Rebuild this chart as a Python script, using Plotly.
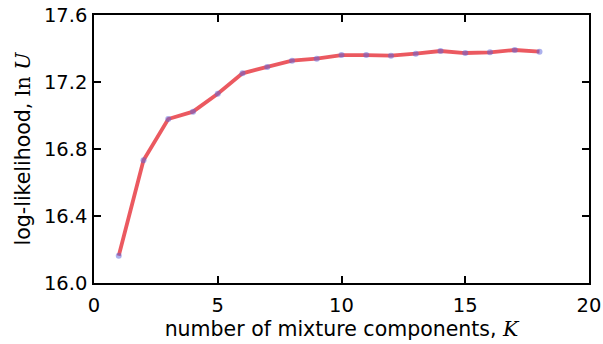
import plotly.graph_objects as go

K = list(range(1, 19))
loglik = [16.163, 16.733, 16.979, 17.023, 17.130, 17.252, 17.290, 17.327, 17.339,
          17.361, 17.361, 17.357, 17.369, 17.385, 17.373, 17.377, 17.391, 17.381]

x_ticks = [0, 5, 10, 15, 20]
y_ticks = [16.0, 16.4, 16.8, 17.2, 17.6]

fig = go.Figure()
fig.add_trace(go.Scatter(
    x=K, y=loglik, mode="lines",
    line=dict(color="rgba(232,60,68,0.85)", width=3.8),
    showlegend=False,
))
fig.add_trace(go.Scatter(
    x=K, y=loglik, mode="markers",
    marker=dict(color="rgba(90,100,220,0.5)", size=6, line=dict(width=0)),
    showlegend=False,
))

font = "DejaVu Sans, sans-serif"
serif = "DejaVu Serif, serif"
axis_common = dict(
    showline=True, linecolor="black", linewidth=1.5, mirror="allticks",
    ticks="inside", ticklen=7, tickwidth=1.5, tickcolor="black",
    showgrid=False, zeroline=False, automargin=False,
    tickfont=dict(family=font, size=19.5, color="black"),
)
fig.update_layout(
    width=603, height=344,
    margin=dict(l=94, r=14, t=15, b=61),
    paper_bgcolor="white", plot_bgcolor="white",
    xaxis=dict(range=[0, 20], tickvals=x_ticks, ticktext=[str(v) for v in x_ticks],
               ticklabelstandoff=4,
               title=dict(text=f"number of mixture components, <span style='font-family:{serif}'><i>K</i></span>",
                          font=dict(family=font, size=20.5, color="black"), standoff=3),
               **axis_common),
    yaxis=dict(range=[16.0, 17.6], tickvals=y_ticks, ticktext=[f"{v:.1f}" for v in y_ticks],
               ticklabelstandoff=1,
               title=dict(text=f"log-likelihood, <span style='font-family:{serif}'>ln <i>U</i></span>",
                          font=dict(family=font, size=20.5, color="black"), standoff=8),
               **axis_common),
)
fig.write_html("out.html", config={"displayModeBar": False},
               post_script="document.body.style.margin='0';")
